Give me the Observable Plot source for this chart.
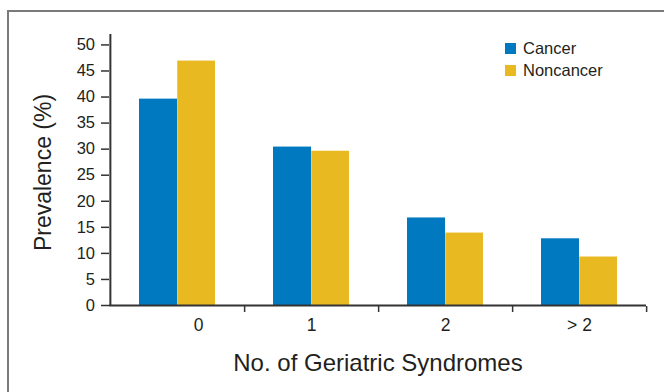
<!DOCTYPE html>
<html><head><meta charset="utf-8">
<script src="https://cdn.jsdelivr.net/npm/d3@7"></script>
<script src="https://cdn.jsdelivr.net/npm/@observablehq/plot@0.6"></script>
<style>
html,body{margin:0;padding:0;background:#fff;}
#wrap{position:relative;width:664px;height:392px;overflow:hidden;font-family:"Liberation Sans",Arial,sans-serif;color:#231f20;}
#border{position:absolute;left:7px;top:10px;width:720px;height:420px;border-top:2px solid #7a7a7a;border-left:2px solid #7a7a7a;}
#chart{position:absolute;left:0;top:0;}
.lg-sw{position:absolute;width:11px;height:11px;}
.lg-tx{position:absolute;font-size:16.5px;line-height:16.5px;white-space:nowrap;}
</style></head>
<body><div id="wrap"><div id="border"></div><div id="chart"></div><div id="legend"></div></div>
<script>
const categories = ["0", "1", "2", "> 2"];
const cancerValues = [39.6, 30.4, 16.8, 12.8];
const noncancerValues = [46.9, 29.6, 13.9, 9.3];
const seriesNames = ["Cancer", "Noncancer"];
const seriesColors = ["#0079c1", "#e8b921"];
const yTicks = [0, 5, 10, 15, 20, 25, 30, 35, 40, 45, 50];
const yDomain = [0, 52];
const xTitle = "No. of Geriatric Syndromes";
const yTitle = "Prevalence (%)";

const W = 664, H = 392, mL = 109, mR = 18, mT = 34, mB = 87;
const bw = (W - mL - mR) / categories.length;
const axisColor = "#333";
const textColor = "#231f20";

const cancerRows = categories.map((c, i) => ({category: c, value: cancerValues[i]}));
const noncancerRows = categories.map((c, i) => ({category: c, value: noncancerValues[i]}));

const chart = Plot.plot({
  width: W, height: H,
  marginLeft: mL, marginRight: mR, marginTop: mT, marginBottom: mB,
  style: {background: "transparent", fontFamily: '"Liberation Sans", Arial, sans-serif', fontSize: "16px", color: textColor},
  x: {domain: categories, padding: 0},
  y: {domain: yDomain},
  marks: [
    Plot.barY(cancerRows, {x: "category", y: "value", fill: seriesColors[0], insetLeft: 29, insetRight: 67}),
    Plot.barY(noncancerRows, {x: "category", y: "value", fill: seriesColors[1], insetLeft: bw - 67, insetRight: 29}),
    Plot.ruleY([0], {stroke: axisColor, strokeWidth: 2}),
    Plot.ruleX(categories.slice(0, 1), {x: d => d, y1: yDomain[0], y2: yDomain[1], dx: -bw / 2, stroke: axisColor, strokeWidth: 2}),
    Plot.axisY({ticks: yTicks, tickSize: 8, tickFormat: () => "", label: null, strokeWidth: 1.5, stroke: axisColor}),
    Plot.axisX({tickSize: 6, tickFormat: () => "", dx: bw / 2, dy: 1, label: null, strokeWidth: 1.5, stroke: axisColor}),
    Plot.text(yTicks, {y: d => d, text: d => String(d), frameAnchor: "left", textAnchor: "end", lineAnchor: "middle", dx: -14.5, fontSize: 16.5, fill: textColor}),
    Plot.text(categories.slice(1), {x: d => d, text: d => d, frameAnchor: "bottom", textAnchor: "middle", lineAnchor: "middle", dy: 20, fontSize: 17.5, fill: textColor}),
    Plot.text(categories.slice(0, 1), {x: d => d, text: d => d, frameAnchor: "bottom", textAnchor: "middle", lineAnchor: "middle", dx: 21, dy: 20, fontSize: 17.5, fill: textColor}),
    Plot.text([yTitle], {text: d => d, frameAnchor: "left", textAnchor: "middle", lineAnchor: "middle", rotate: -90, dx: -66, dy: 2.5, fontSize: 23, fill: textColor}),
    Plot.text([xTitle], {text: d => d, frameAnchor: "bottom", textAnchor: "middle", lineAnchor: "middle", dy: 58, fontSize: 24, fill: textColor})
  ]
});
document.getElementById("chart").append(chart);

const legend = document.getElementById("legend");
seriesNames.forEach((name, i) => {
  const sw = document.createElement("div");
  sw.className = "lg-sw";
  sw.style.left = "505px";
  sw.style.top = (43 + i * 22) + "px";
  sw.style.background = seriesColors[i];
  const tx = document.createElement("div");
  tx.className = "lg-tx";
  tx.style.left = "523px";
  tx.style.top = (40 + i * 22) + "px";
  tx.textContent = name;
  legend.append(sw, tx);
});
</script>
</body></html>
